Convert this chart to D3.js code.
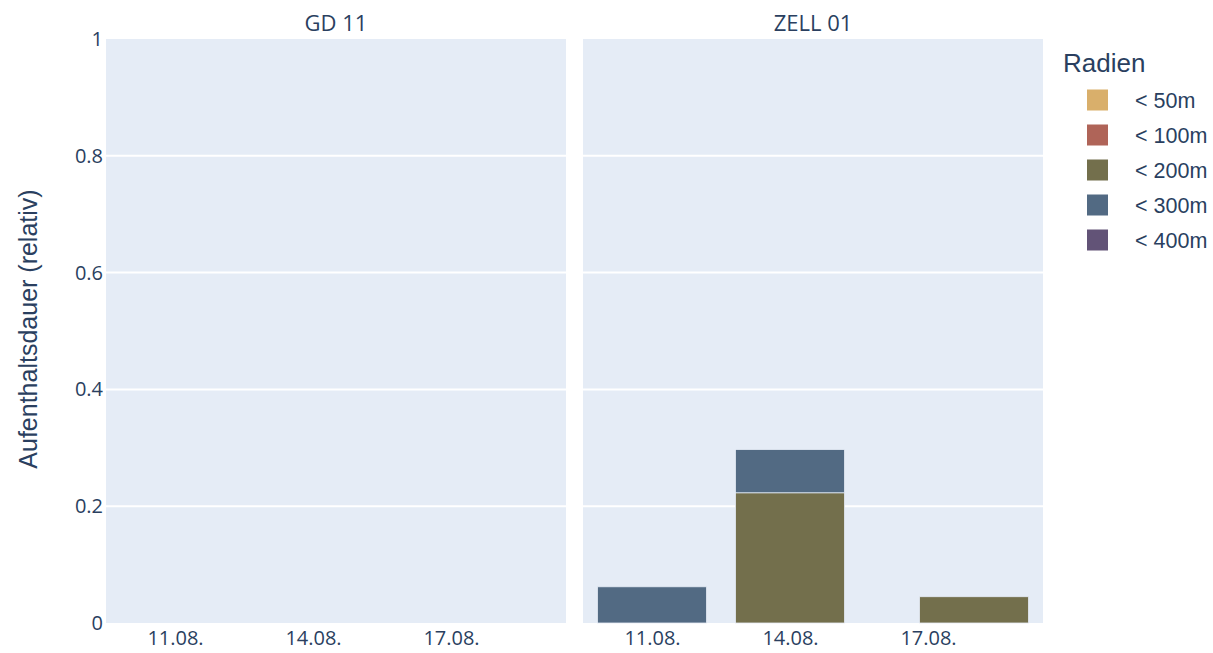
<!DOCTYPE html>
<html>
<head>
<meta charset="utf-8">
<script src="https://cdn.jsdelivr.net/npm/d3@7"></script>
<style>
  body { margin: 0; background: #fff; }
  text { fill: #2a3f5f; }
</style>
</head>
<body>
<div id="chart"></div>
<script>
// data
var facets = ["GD 11", "ZELL 01"];
var radien = ["< 50m", "< 100m", "< 200m", "< 300m", "< 400m"];
var colors = ["rgb(217,175,107)", "rgb(175,100,88)", "rgb(115,111,76)", "rgb(82,106,131)", "rgb(98,83,119)"];
var dates = ["2021-08-11", "2021-08-14", "2021-08-18"];
// values per facet, per radius, per date
var gd11 = {
  "< 200m": [0, 0, 0],
  "< 300m": [0, 0, 0]
};
var zell01 = {
  "< 200m": [0, 0.223, 0.045],
  "< 300m": [0.062, 0.074, 0]
};
var yTicks = [0, 0.2, 0.4, 0.6, 0.8, 1];
var xTicks = ["2021-08-11", "2021-08-14", "2021-08-17"];

var svgWidth = 1213, svgHeight = 653;
var plotTop = 39, plotBottom = 623;
var panels = [{x0: 106, x1: 566, data: gd11}, {x0: 583, x1: 1043, data: zell01}];

var parse = d3.timeParse("%Y-%m-%d");
var fmt = d3.timeFormat("%d.%m.");

var svg = d3.select("#chart").append("svg")
  .attr("width", svgWidth)
  .attr("height", svgHeight);

var y = d3.scaleLinear().domain([0, 1]).range([plotBottom, plotTop]);

panels.forEach(function(p, i) {
  var x = d3.scaleTime()
    .domain([new Date(2021, 7, 9, 12), new Date(2021, 7, 19, 12)])
    .range([p.x0, p.x1]);
  var dayPx = x(new Date(2021, 7, 12)) - x(new Date(2021, 7, 11));
  var barW = dayPx * 2.37;

  var g = svg.append("g");
  g.append("rect")
    .attr("x", p.x0).attr("y", plotTop)
    .attr("width", p.x1 - p.x0).attr("height", plotBottom - plotTop)
    .attr("fill", "#E5ECF6");

  // grid
  g.selectAll(".grid")
    .data(yTicks.slice(1, -1))
    .enter().append("line")
    .attr("x1", p.x0).attr("x2", p.x1)
    .attr("y1", d => y(d)).attr("y2", d => y(d))
    .attr("stroke", "#fff").attr("stroke-width", 2);

  // stacked bars
  dates.forEach(function(ds, j) {
    var base = 0;
    radien.forEach(function(r, k) {
      var v = p.data[r] ? p.data[r][j] : 0;
      if (v > 0) {
        g.append("rect")
          .attr("x", x(parse(ds)) - barW / 2)
          .attr("width", barW)
          .attr("y", y(base + v))
          .attr("height", y(base) - y(base + v))
          .attr("fill", colors[k])
          .attr("stroke", "#E5ECF6")
          .attr("stroke-width", 0.8);
      }
      base += v;
    });
  });

  // x axis
  var xAxis = d3.axisBottom(x)
    .tickValues(xTicks.map(parse))
    .tickFormat(fmt)
    .tickSize(0).tickPadding(8);
  var xa = g.append("g")
    .attr("transform", "translate(0," + plotBottom + ")")
    .call(xAxis);
  xa.select(".domain").remove();
  xa.selectAll("text")
    .attr("font-family", "'Open Sans', sans-serif")
    .attr("font-size", 20)
    .attr("fill", "#2a3f5f");

  // facet title
  svg.append("text")
    .attr("x", (p.x0 + p.x1) / 2)
    .attr("y", 31)
    .attr("text-anchor", "middle")
    .attr("font-family", "'Open Sans', sans-serif")
    .attr("font-size", 22)
    .text(facets[i]);
});

// y axis (left panel only)
var yAxis = d3.axisLeft(y)
  .tickValues(yTicks)
  .tickFormat(d => d3.format("")(+d.toFixed(1)))
  .tickSize(0).tickPadding(3);
var ya = svg.append("g")
  .attr("transform", "translate(106,0)")
  .call(yAxis);
ya.select(".domain").remove();
ya.selectAll("text")
  .attr("font-family", "'Open Sans', sans-serif")
  .attr("font-size", 20)
  .attr("fill", "#2a3f5f");

svg.append("text")
  .attr("transform", "rotate(-90)")
  .attr("x", -(plotTop + plotBottom) / 2 + 2)
  .attr("y", 37)
  .attr("text-anchor", "middle")
  .attr("font-family", "'Liberation Sans', Arial, sans-serif")
  .attr("font-size", 25)
  .text("Aufenthaltsdauer (relativ)");

// legend
var legend = svg.append("g").attr("transform", "translate(1063,0)");
legend.append("text")
  .attr("x", 0).attr("y", 72)
  .attr("font-family", "'Liberation Sans', Arial, sans-serif")
  .attr("font-size", 26)
  .text("Radien");
var items = legend.selectAll(".item")
  .data(radien)
  .enter().append("g")
  .attr("transform", (d, i) => "translate(0," + (100 + i * 35) + ")");
items.append("rect")
  .attr("x", 24).attr("y", -10.5)
  .attr("width", 21).attr("height", 21)
  .attr("fill", (d, i) => colors[i]);
items.append("text")
  .attr("x", 72).attr("y", 7.5)
  .attr("font-family", "'Liberation Sans', Arial, sans-serif")
  .attr("font-size", 21.5)
  .text(d => d);
</script>
</body>
</html>
